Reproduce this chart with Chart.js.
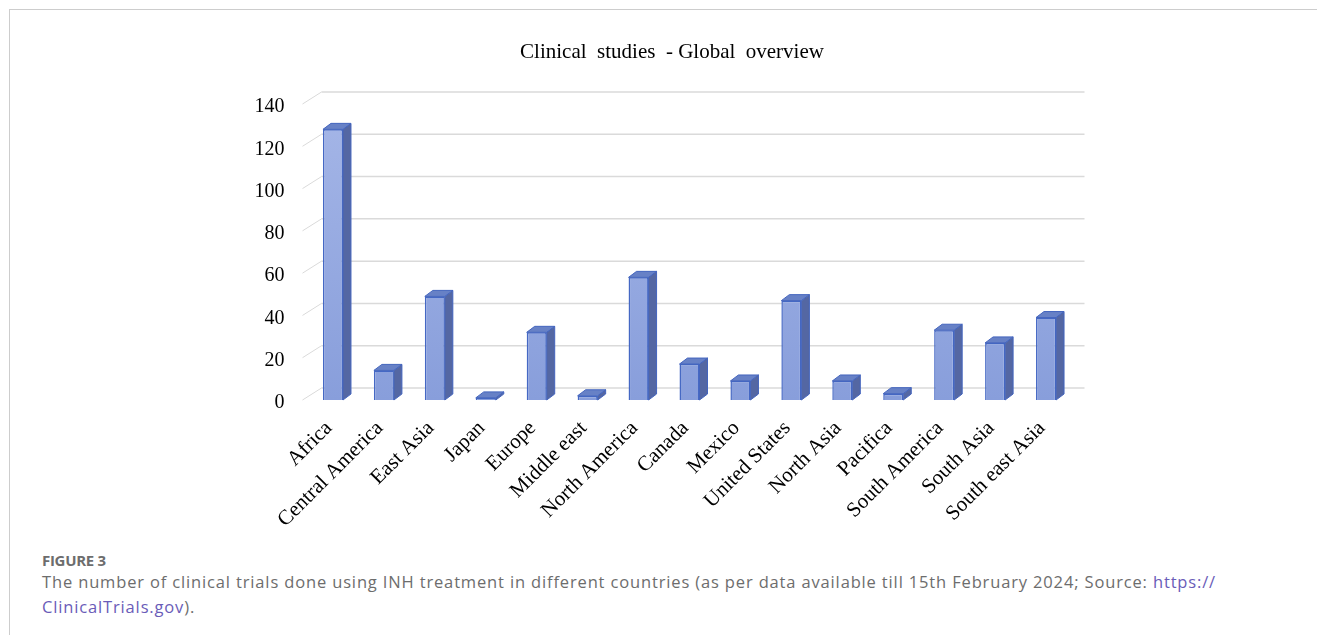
<!DOCTYPE html>
<html lang="en">
<head>
    <meta charset="UTF-8">
    <title>Clinical studies - Global overview</title>
    <script src="https://cdn.jsdelivr.net/npm/chart.js"></script>
    <style>
        body { margin: 0; background: #ffffff; }
        .frame {
            position: absolute; left: 9px; top: 9px; right: 0; bottom: 0;
            border-top: 1.5px solid #cdcdcd; border-left: 1.5px solid #cdcdcd;
        }
        canvas { position: absolute; left: 0; top: 0; }
        .caption {
            position: absolute; left: 42px; top: 551px;
            font-family: "Open Sans", sans-serif; color: #6d6d6d;
        }
        .caption .fig { font-weight: bold; font-size: 15px; line-height: 18px; letter-spacing: -0.3px; }
        .caption .txt { font-size: 16.5px; line-height: 25px; letter-spacing: 0.85px; }
        .caption a { color: #6a5cb8; text-decoration: none; }
    </style>
</head>
<body>
    <div class="frame"></div>
    <canvas id="chart" width="1317" height="540"></canvas>
    <div class="caption">
        <div class="fig">FIGURE 3</div>
        <div class="txt">The number of clinical trials done using INH treatment in different countries (as per data available till 15th February 2024; Source: <a href="#">https://<br>ClinicalTrials.gov</a>).</div>
    </div>
    <script>
        // regiones y numero de estudios
        const regions = ['Africa', 'Central America', 'East Asia', 'Japan', 'Europe', 'Middle east',
            'North America', 'Canada', 'Mexico', 'United States', 'North Asia', 'Pacifica',
            'South America', 'South Asia', 'South east Asia'];
        const studies = [128, 14, 49, 1, 32, 2, 58, 17, 9, 47, 9, 3, 33, 27, 39];
        const yTicks = [0, 20, 40, 60, 80, 100, 120, 140];
        const chartTitle = 'Clinical  studies  - Global  overview';

        // titulo centrado sobre la figura
        const titlePlugin = {
            id: 'titlePlugin',
            beforeDraw(chart) {
                const { ctx } = chart;
                ctx.save();
                ctx.font = '21px "Liberation Serif", serif';
                ctx.fillStyle = '#000000';
                ctx.textAlign = 'center';
                ctx.textBaseline = 'middle';
                ctx.fillText(chartTitle, 672, 52);
                ctx.restore();
            }
        };

        // caras laterales y superior de las barras (efecto 3D)
        const bars3d = {
            id: 'bars3d',
            beforeDatasetsDraw(chart) {
                const { ctx, chartArea } = chart;
                const y = chart.scales.y;
                ctx.save();
                yTicks.forEach(v => {
                    const py = y.getPixelForValue(v);
                    ctx.strokeStyle = '#dadada';
                    ctx.lineWidth = 1;
                    ctx.beginPath();
                    ctx.moveTo(chartArea.left - 5, py);
                    ctx.lineTo(chartArea.left + 14, py - 12);
                    ctx.stroke();
                    ctx.lineWidth = 1.5;
                    ctx.beginPath();
                    ctx.moveTo(chartArea.left + 14, py - 12);
                    ctx.lineTo(chartArea.right + 13, py - 12);
                    ctx.stroke();
                });
                ctx.restore();
            },
            afterDatasetsDraw(chart) {
                const { ctx } = chart;
                const dx = 8, dy = 6;
                ctx.save();
                chart.getDatasetMeta(0).data.forEach(bar => {
                    const l = bar.x - bar.width / 2, r = bar.x + bar.width / 2;
                    ctx.fillStyle = '#5467a3';
                    ctx.strokeStyle = '#4465be';
                    ctx.lineWidth = 1;
                    ctx.beginPath();
                    ctx.moveTo(r, bar.y);
                    ctx.lineTo(r + dx, bar.y - dy);
                    ctx.lineTo(r + dx, bar.base - dy);
                    ctx.lineTo(r, bar.base);
                    ctx.closePath();
                    ctx.fill();
                    ctx.stroke();
                    ctx.fillStyle = '#6781c6';
                    ctx.beginPath();
                    ctx.moveTo(l, bar.y);
                    ctx.lineTo(l + dx, bar.y - dy);
                    ctx.lineTo(r + dx, bar.y - dy);
                    ctx.lineTo(r, bar.y);
                    ctx.closePath();
                    ctx.fill();
                    ctx.stroke();
                });
                ctx.restore();
            }
        };

        const ctx = document.getElementById('chart').getContext('2d');
        new Chart(ctx, {
            type: 'bar',
            data: {
                labels: regions,
                datasets: [{
                    data: studies,
                    backgroundColor: function(context) {
                        const area = context.chart.chartArea;
                        if (!area) return '#93a7df';
                        const g = context.chart.ctx.createLinearGradient(0, area.top, 0, area.bottom);
                        g.addColorStop(0, '#a5b6e7');
                        g.addColorStop(1, '#889edb');
                        return g;
                    },
                    borderColor: '#4568c4',
                    borderWidth: 1.5,
                    barPercentage: 0.393,
                    categoryPercentage: 1
                }]
            },
            options: {
                responsive: false,
                animation: false,
                layout: { padding: { left: 0, right: 245.5, top: 104, bottom: 0 } },
                plugins: {
                    legend: { display: false },
                    tooltip: { enabled: false },
                    title: { display: false }
                },
                scales: {
                    x: {
                        grid: { display: false },
                        border: { display: false },
                        ticks: {
                            color: '#000000',
                            font: { family: '"Liberation Serif", serif', size: 21 },
                            minRotation: 45,
                            maxRotation: 45,
                            autoSkip: false,
                            labelOffset: -4,
                            padding: 8
                        },
                        afterFit: s => { s.height = 140; }
                    },
                    y: {
                        min: 0,
                        max: 140,
                        grid: { display: false },
                        border: { display: false },
                        afterBuildTicks: s => { s.ticks = yTicks.map(v => ({ value: v })); },
                        ticks: {
                            color: '#000000',
                            font: { family: '"Liberation Serif", serif', size: 20 },
                            labelOffset: 3,
                            padding: 15
                        },
                        afterFit: s => { s.width = 307.5; }
                    }
                }
            },
            plugins: [titlePlugin, bars3d]
        });
    </script>
</body>
</html>
